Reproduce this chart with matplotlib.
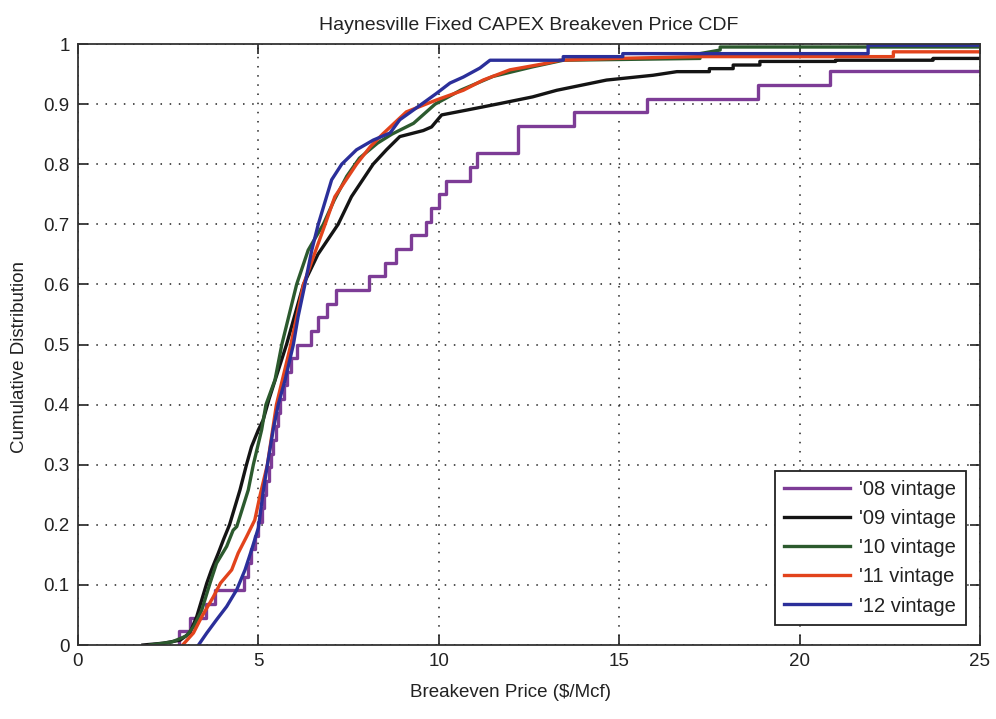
import numpy as np
import matplotlib
matplotlib.use("Agg")
import matplotlib.pyplot as plt

plt.rcParams['font.family'] = ['Liberation Sans', 'DejaVu Sans']

# '08 vintage: individual well breakeven prices ($/Mcf), 44 wells (last two beyond the axis)
v08 = [2.8, 3.1, 3.55, 3.8, 4.6, 4.7, 4.8, 4.9, 5.0, 5.1, 5.15, 5.2, 5.3, 5.35,
       5.4, 5.5, 5.55, 5.6, 5.7, 5.8, 5.9, 6.06, 6.45, 6.64, 6.89, 7.15, 8.06,
       8.52, 8.82, 9.24, 9.64, 9.78, 10.02, 10.2, 10.87, 11.05, 12.2, 12.2,
       13.75, 15.78, 18.85, 20.83, 27.0, 31.0]

# '09 - '12 vintages: CDF (price, cumulative)
x09 = [1.8, 2.36, 2.83, 3.1, 3.29, 3.43, 3.57, 3.7, 3.89, 4.03, 4.2, 4.49, 4.67,
       4.81, 5.0, 5.13, 5.3, 5.78, 6.25, 6.65, 7.21, 7.58, 8.18, 8.55, 8.92,
       9.57, 9.8, 10.08, 10.77, 11.7, 12.6, 13.27, 14.0, 14.65, 15.94, 16.6,
       17.5, 17.5, 18.16, 18.16, 18.9, 18.9, 21.0, 21.0, 23.7, 23.7, 25.0]
y09 = [0.0, 0.003, 0.008, 0.02, 0.047, 0.075, 0.103, 0.125, 0.153, 0.175, 0.2,
       0.258, 0.3, 0.33, 0.358, 0.374, 0.41, 0.5, 0.6, 0.65, 0.7, 0.746, 0.8,
       0.824, 0.846, 0.856, 0.862, 0.882, 0.89, 0.901, 0.912, 0.923, 0.932,
       0.94, 0.948, 0.954, 0.954, 0.959, 0.959, 0.965, 0.965, 0.971, 0.971,
       0.973, 0.973, 0.976, 0.976]

x10 = [2.0, 2.6, 3.0, 3.2, 3.43, 3.66, 3.84, 4.12, 4.3, 4.4, 4.72, 4.86, 5.09,
       5.21, 5.46, 5.65, 6.06, 6.38, 6.8, 7.1, 7.45, 7.8, 8.3, 8.7, 9.3, 9.9,
       10.6, 11.5, 12.6, 13.45, 17.24, 17.24, 17.8, 17.8, 25.0]
y10 = [0.0, 0.005, 0.015, 0.03, 0.058, 0.103, 0.136, 0.164, 0.191, 0.197,
       0.258, 0.3, 0.358, 0.4, 0.441, 0.5, 0.6, 0.657, 0.7, 0.74, 0.78, 0.81,
       0.835, 0.85, 0.868, 0.9, 0.923, 0.946, 0.962, 0.973, 0.976, 0.984, 0.99,
       0.995, 0.995]

x11 = [2.9, 3.2, 3.43, 3.75, 3.95, 4.26, 4.44, 4.67, 4.9, 5.05, 5.25, 5.5, 5.9,
       6.25, 6.85, 7.12, 7.72, 8.1, 8.46, 9.1, 9.94, 10.68, 11.23, 11.97, 12.99,
       13.36, 14.93, 17.24, 22.6, 22.6, 25.0]
y11 = [0.0, 0.02, 0.047, 0.08, 0.103, 0.125, 0.153, 0.18, 0.208, 0.25, 0.3, 0.4,
       0.5, 0.6, 0.7, 0.746, 0.8, 0.829, 0.851, 0.887, 0.907, 0.923, 0.94,
       0.957, 0.968, 0.973, 0.976, 0.979, 0.979, 0.987, 0.987]

x12 = [3.34, 3.57, 3.84, 4.12, 4.4, 4.63, 4.81, 5.0, 5.14, 5.25, 5.41, 5.55,
       5.74, 5.97, 6.1, 6.29, 6.48, 6.66, 6.89, 7.03, 7.31, 7.72, 8.18, 8.65,
       8.92, 9.48, 9.94, 10.31, 10.68, 11.14, 11.42, 13.45, 13.45, 15.1, 15.1,
       21.9, 21.9, 25.0]
y12 = [0.0, 0.02, 0.042, 0.064, 0.092, 0.125, 0.158, 0.195, 0.258, 0.3, 0.358,
       0.4, 0.441, 0.5, 0.546, 0.6, 0.657, 0.7, 0.746, 0.774, 0.8, 0.824, 0.84,
       0.852, 0.874, 0.898, 0.918, 0.935, 0.945, 0.96, 0.973, 0.973, 0.979,
       0.979, 0.984, 0.984, 0.998, 0.998]

labels = ["'08 vintage", "'09 vintage", "'10 vintage", "'11 vintage", "'12 vintage"]
colors = ['#7d3c96', '#141414', '#2c5a2e', '#e2431c', '#2b2f9a']

fig = plt.figure(figsize=(9.96, 7.19), dpi=100)
ax = fig.add_axes([0.0783, 0.1029, 0.9056, 0.8359])

n = len(v08)
xs = np.concatenate([[v08[0]], np.sort(v08)])
ys = np.concatenate([[0], np.arange(1, n + 1) / n])
ax.step(xs, ys, where='post', color=colors[0], lw=2.4, label=labels[0])
ax.plot(x09, y09, color=colors[1], lw=2.4, label=labels[1])
ax.plot(x10, y10, color=colors[2], lw=2.4, label=labels[2])
ax.plot(x11, y11, color=colors[3], lw=2.4, label=labels[3])
ax.plot(x12, y12, color=colors[4], lw=2.4, label=labels[4])

ax.set_xlim(0, 25)
ax.set_ylim(0, 1)
ax.set_xticks(np.arange(0, 26, 5))
ax.set_yticks(np.arange(0, 1.01, 0.1))
ax.set_yticklabels(['0', '0.1', '0.2', '0.3', '0.4', '0.5', '0.6', '0.7', '0.8', '0.9', '1'])
ax.grid(True, color='#222222', linestyle=(0, (1, 5)), lw=1.1)
ax.tick_params(direction='in', top=True, right=True, length=7, width=1.2,
               labelsize=13.5, colors='#222222', pad=6)
for s in ax.spines.values():
    s.set_linewidth(1.3)
    s.set_color('#333333')

ax.set_title('Haynesville Fixed CAPEX Breakeven Price CDF', fontsize=14, pad=10,
             color='#222222')
ax.set_xlabel('Breakeven Price ($/Mcf)', fontsize=13.5, color='#222222')
ax.xaxis.set_label_coords(0.48, -0.065)
ax.set_ylabel('Cumulative Distribution', fontsize=13.5, color='#222222')
ax.yaxis.set_label_coords(-0.055, 0.48)

leg = ax.legend(loc='lower right', bbox_to_anchor=(0.984, 0.034), borderaxespad=0,
                fancybox=False, edgecolor='#222222', fontsize=14.5, handlelength=3.3,
                handletextpad=0.45, labelspacing=0.5, borderpad=0.45, framealpha=1)
leg.get_frame().set_linewidth(1.3)
for t in leg.get_texts():
    t.set_color('#222222')

fig.savefig('out.png', dpi=100)
